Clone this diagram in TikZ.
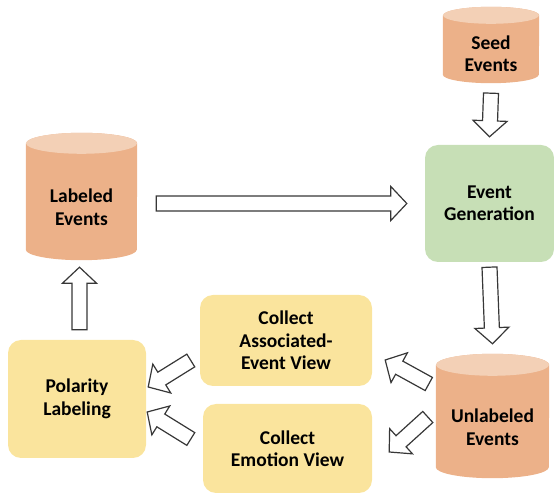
\documentclass[tikz,border=0pt]{standalone}
\usepackage{fontspec}
\setmainfont{Carlito}
\usetikzlibrary{calc,backgrounds}

\definecolor{dbbody}{RGB}{236,177,137}
\definecolor{dbtop}{RGB}{243,208,182}
\definecolor{gengreen}{RGB}{199,223,182}
\definecolor{viewyellow}{RGB}{250,228,157}
\definecolor{arrowline}{RGB}{55,55,55}

% open block arrow from #1 to #2
\newcommand{\fatarrow}[2]{%
  \coordinate (hb) at ($(#2)!16pt!(#1)$);
  \draw[blockarrow] ($(#1)!7.5pt!90:(#2)$) -- ($(hb)!7.5pt!90:(#2)$)
    -- ($(hb)!17pt!90:(#2)$) -- (#2) -- ($(hb)!17pt!-90:(#2)$)
    -- ($(hb)!7.5pt!-90:(#2)$) -- ($(#1)!7.5pt!-90:(#2)$) -- cycle;}

% cylinder behind node #1, radii #2 and #3
\newcommand{\dbcyl}[3]{%
  \fill[dbbody] ([yshift=#3]#1.north west) -- ([yshift=#3]#1.south west)
    arc[start angle=180,end angle=360,x radius=#2,y radius=#3]
    -- ([yshift=#3]#1.north east)
    arc[start angle=0,end angle=180,x radius=#2,y radius=#3] -- cycle;
  \fill[dbtop] ([yshift=#3]#1.north) ellipse[x radius=#2,y radius=#3];}

\begin{document}
\begin{tikzpicture}[x=1pt,y=1pt,
    every node/.style={font=\fontsize{19.5}{22.5}\selectfont\bfseries,
      text=black,align=center,inner sep=0pt},
    box/.style={rounded corners=13pt,fill=#1},
    db/.style={},
    blockarrow/.style={draw=arrowline,fill=white,line width=1.2pt,line join=miter}]
    \useasboundingbox (0,0) rectangle (554,495);

    % databases
    \node[db,minimum width=96,minimum height=59] (seed) at (491,441.5) {Seed\\Events};
    \node[db,minimum width=111,minimum height=106] (lab) at (81.5,288) {Labeled\\Events};
    \node[db,minimum width=113,minimum height=102] (unl) at (492.5,68) {Unlabeled\\Events};

    % processing steps
    \node[box=gengreen,minimum width=129,minimum height=117] (gen) at (489.5,291.5) {Event\\Generation};
    \node[box=viewyellow,minimum width=138,minimum height=118] (pol) at (77,96) {Polarity\\Labeling};
    \node[box=viewyellow,minimum width=172,minimum height=91] (assoc) at (286,154.5) {Collect\\Associated-\\Event View};
    \node[box=viewyellow,minimum width=169,minimum height=89] (emo) at (287.5,46.5) {Collect\\Emotion View};

    \begin{scope}[on background layer]
        \dbcyl{seed}{48}{8.5}
        \dbcyl{lab}{55.5}{10.5}
        \dbcyl{unl}{56.5}{11}
    \end{scope}

    % arrow ends
    \coordinate (s1) at ($(seed.south)+(0,-10)$);
    \coordinate (t1) at ($(gen.north)+(0,8)$);
    \coordinate (s2) at ($(gen.south)+(0,-5)$);
    \coordinate (t2) at ($(unl.north)+(0,32)$);
    \coordinate (s3) at ($(lab.east |- gen.west)+(19,0)$);
    \coordinate (t3) at ($(gen.west)+(-18,0)$);
    \coordinate (s4) at ($(pol.north)+(2.5,10)$);
    \coordinate (t4) at ($(lab.south)+(-2,-7)$);
    \coordinate (sa) at ($(assoc.west)+(-9,-20)$);
    \coordinate (ta) at ($(pol.east)+(2,12)$);
    \coordinate (sb) at ($(emo.west)+(-12,9.5)$);
    \coordinate (tb) at ($(pol.east)+(1,-13)$);
    \coordinate (sc) at ($(unl.west)+(-7,43)$);
    \coordinate (tc) at ($(assoc.east)+(13,-19.5)$);
    \coordinate (sd) at ($(unl.west)+(-8,10)$);
    \coordinate (td) at ($(emo.east)+(17,-3.5)$);

    % draw the arrows
    \fatarrow{s1}{t1}
    \fatarrow{s2}{t2}
    \fatarrow{s3}{t3}
    \fatarrow{s4}{t4}
    \fatarrow{sa}{ta}
    \fatarrow{sb}{tb}
    \fatarrow{sc}{tc}
    \fatarrow{sd}{td}
\end{tikzpicture}
\end{document}
